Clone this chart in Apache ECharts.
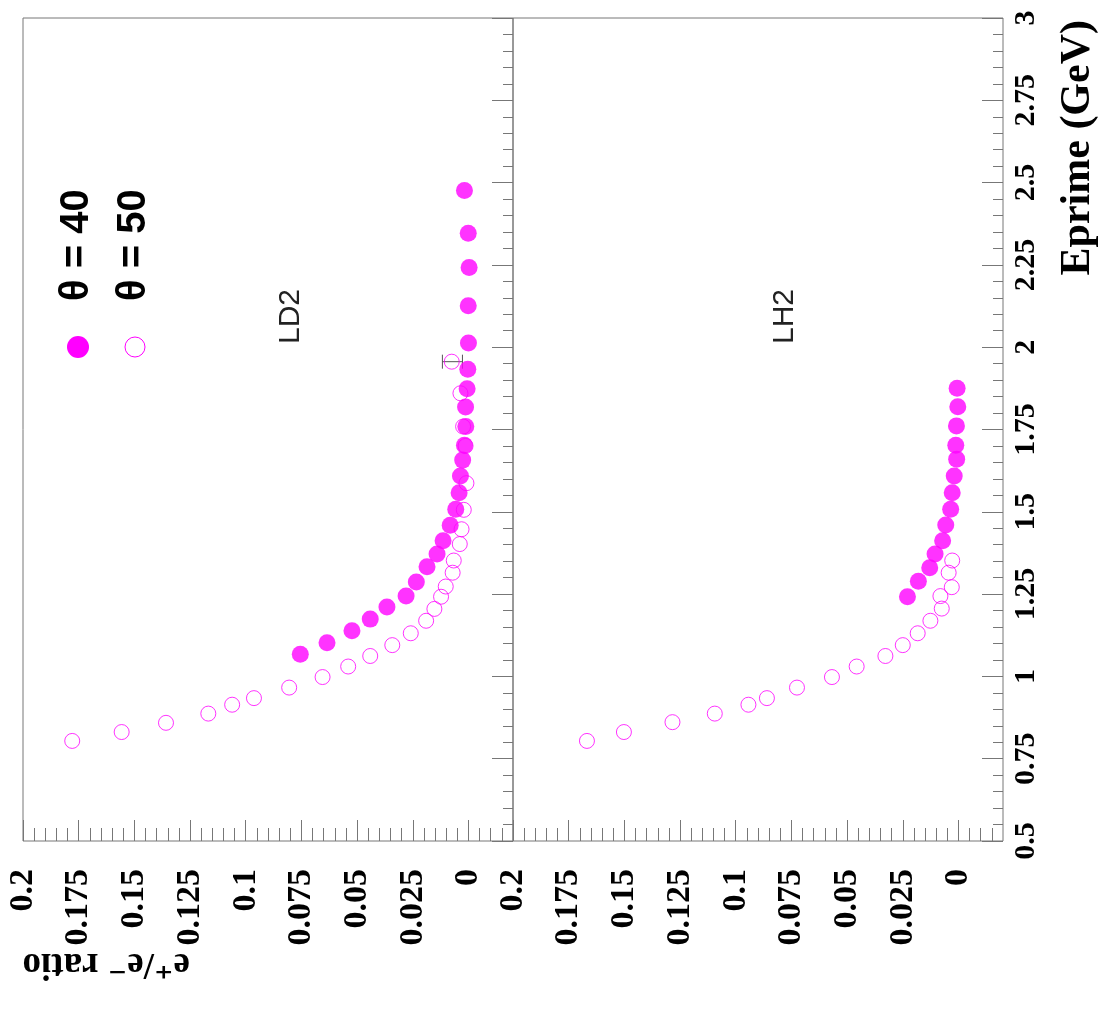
<!DOCTYPE html>
<html lang="en">
<head>
  <meta charset="UTF-8">
  <title>e+/e- ratio vs Eprime</title>
  <script src="https://cdn.jsdelivr.net/npm/echarts@6/dist/echarts.min.js"></script>
  <style>
    html, body { margin: 0; padding: 0; background: #fff; }
  </style>
</head>
<body>
<div id="main" style="width: 1098px;height: 1009px;"></div>
<script>
  // LD2, theta = 40 (filled)
  var ld2E40 = [1.067, 1.102, 1.139, 1.174, 1.211, 1.244, 1.287, 1.333, 1.372, 1.412, 1.459, 1.508, 1.558,
    1.609, 1.657, 1.702, 1.759, 1.818, 1.874, 1.933, 2.013, 2.126, 2.242, 2.346, 2.476];
  var ld2R40 = [0.0755, 0.0635, 0.0523, 0.0441, 0.0366, 0.0280, 0.0234, 0.0186, 0.0141, 0.0114, 0.0082, 0.0057, 0.0042,
    0.0036, 0.0026, 0.0018, 0.0012, 0.0013, 0.0006, 0.0003, 0.0000, 0.0001, -0.0003, 0.0001, 0.0018];
  // LD2, theta = 50 (open)
  var ld2E50 = [0.804, 0.831, 0.859, 0.887, 0.914, 0.934, 0.966, 0.998, 1.030, 1.062, 1.095, 1.131, 1.169,
    1.205, 1.242, 1.273, 1.315, 1.352, 1.402, 1.447, 1.506, 1.587, 1.700, 1.759, 1.860, 1.956];
  var ld2R50 = [0.1779, 0.1557, 0.1358, 0.1168, 0.1061, 0.0963, 0.0805, 0.0655, 0.0540, 0.0441, 0.0342, 0.0259, 0.0190,
    0.0153, 0.0123, 0.0102, 0.0071, 0.0066, 0.0039, 0.0031, 0.0021, 0.0009, 0.0013, 0.0024, 0.0036, 0.0075];
  // error bar on the last LD2 theta=50 point
  var ld2ErrE = [1.956];
  var ld2ErrLo = [0.0027];
  var ld2ErrHi = [0.0117];
  // LH2, theta = 40 (filled)
  var lh2E40 = [1.242, 1.289, 1.330, 1.372, 1.412, 1.460, 1.508, 1.558, 1.609, 1.660, 1.702, 1.761, 1.819, 1.875];
  var lh2R40 = [0.0229, 0.0180, 0.0129, 0.0105, 0.0071, 0.0057, 0.0035, 0.0028, 0.0019, 0.0008, 0.0012, 0.0009, 0.0003, 0.0006];
  // LH2, theta = 50 (open)
  var lh2E50 = [0.804, 0.831, 0.861, 0.887, 0.914, 0.934, 0.966, 0.998, 1.030, 1.062, 1.095, 1.131, 1.169,
    1.206, 1.244, 1.271, 1.315, 1.352];
  var lh2R50 = [0.1668, 0.1502, 0.1284, 0.1094, 0.0943, 0.0860, 0.0725, 0.0568, 0.0457, 0.0328, 0.0250, 0.0183, 0.0126,
    0.0075, 0.0081, 0.0030, 0.0044, 0.0028];

  var ratioTicks = [0, 0.025, 0.05, 0.075, 0.1, 0.125, 0.15, 0.175, 0.2];
</script>
<script>
  var myChart = echarts.init(document.getElementById('main'));
  var MAGENTA = '#ff00ff';
  var AXIS_GREY = '#777';

  // minor ticks every 0.005 on the ratio axis
  var ratioMinor = [];
  for (var k = -3; k < 40; k++) {
    if (k % 5 !== 0) ratioMinor.push(Math.round(k * 5) / 1000);
  }

  function pairs(xs, ys) {
    return xs.map(function (e, i) { return [ys[i], e]; });
  }

  function ratioAxis(gi, minor) {
    return {
      type: 'value', gridIndex: gi, min: -0.02, max: 0.2, inverse: true, position: 'bottom',
      axisLine: { show: false, onZero: false },
      splitLine: { show: false },
      axisTick: {
        show: true, inside: true, length: minor ? 13 : 21,
        customValues: minor ? ratioMinor : ratioTicks,
        lineStyle: { color: AXIS_GREY }
      },
      axisLabel: minor ? { show: false } : {
        show: true, customValues: ratioTicks, rotate: 90, margin: 28,
        fontFamily: 'Liberation Serif', fontWeight: 'bold', fontSize: 34, color: '#000',
        formatter: function (v) { return String(v); }
      }
    };
  }

  function eAxis(gi, labels) {
    return {
      type: 'value', gridIndex: gi, min: 0.5, max: 3, interval: 0.25, position: 'right',
      axisLine: { show: false, onZero: false },
      splitLine: { show: false },
      axisTick: { show: true, inside: true, length: 21, lineStyle: { color: AXIS_GREY } },
      minorTick: { show: true, splitNumber: 5, length: 10, lineStyle: { color: AXIS_GREY } },
      axisLabel: labels ? {
        show: true, rotate: 90, margin: 8, showMinLabel: true, showMaxLabel: true,
        fontFamily: 'Liberation Serif', fontWeight: 'bold', fontSize: 30, color: '#000'
      } : { show: false }
    };
  }

  function openSeries(xi, yi, data) {
    return {
      type: 'scatter', xAxisIndex: xi, yAxisIndex: yi, symbol: 'circle', symbolSize: 15,
      itemStyle: { color: 'rgba(0,0,0,0)', borderColor: MAGENTA, borderWidth: 1 },
      silent: true, animation: false, data: data
    };
  }

  function filledSeries(xi, yi, data) {
    return {
      type: 'scatter', xAxisIndex: xi, yAxisIndex: yi, symbol: 'circle', symbolSize: 17,
      itemStyle: { color: MAGENTA },
      silent: true, animation: false, data: data
    };
  }

  function rotText(x, y, rot, text, font, align, fill) {
    return {
      type: 'text', x: x, y: y, rotation: rot, silent: true,
      style: {
        text: text, font: font, fill: fill || '#000',
        align: align, verticalAlign: 'middle',
        textAlign: align, textVerticalAlign: 'middle'
      }
    };
  }

  myChart.setOption({
    animation: false,
    backgroundColor: '#fff',
    grid: [
      { left: 23, top: 18, width: 490, height: 823, show: true, borderColor: AXIS_GREY, borderWidth: 1 },
      { left: 513, top: 18, width: 490, height: 823, show: true, borderColor: AXIS_GREY, borderWidth: 1 }
    ],
    xAxis: [ratioAxis(0, false), ratioAxis(0, true), ratioAxis(1, false), ratioAxis(1, true)],
    yAxis: [eAxis(0, false), eAxis(1, true)],
    series: [
      openSeries(0, 0, pairs(ld2E50, ld2R50)),
      {
        type: 'custom', xAxisIndex: 0, yAxisIndex: 0, silent: true, animation: false,
        data: ld2ErrE.map(function (e, i) { return [ld2ErrLo[i], ld2ErrHi[i], e]; }),
        renderItem: function (params, api) {
          var a = api.coord([api.value(0), api.value(2)]);
          var b = api.coord([api.value(1), api.value(2)]);
          var st = { stroke: '#555', lineWidth: 1 };
          return {
            type: 'group', children: [
              { type: 'line', shape: { x1: a[0], y1: a[1], x2: b[0], y2: b[1] }, style: st },
              { type: 'line', shape: { x1: a[0], y1: a[1] - 7, x2: a[0], y2: a[1] + 7 }, style: st },
              { type: 'line', shape: { x1: b[0], y1: b[1] - 7, x2: b[0], y2: b[1] + 7 }, style: st }
            ]
          };
        }
      },
      filledSeries(0, 0, pairs(ld2E40, ld2R40)),
      openSeries(2, 1, pairs(lh2E50, lh2R50)),
      filledSeries(2, 1, pairs(lh2E40, lh2R40))
    ],
    graphic: [
      // legend
      { type: 'circle', silent: true, shape: { cx: 78, cy: 347, r: 11 }, style: { fill: MAGENTA } },
      { type: 'circle', silent: true, shape: { cx: 135, cy: 347, r: 10 }, style: { fill: 'none', stroke: MAGENTA, lineWidth: 1 } },
      rotText(77, 301, Math.PI / 2, '\u03b8 = 40', 'bold 40px "Liberation Sans"', 'left'),
      rotText(134, 301, Math.PI / 2, '\u03b8 = 50', 'bold 40px "Liberation Sans"', 'left'),
      // panel names
      rotText(291, 344, Math.PI / 2, 'LD2', '30px "Liberation Sans"', 'left', '#222'),
      rotText(785, 344, Math.PI / 2, 'LH2', '30px "Liberation Sans"', 'left', '#222'),
      // axis titles
      rotText(1078, 20, Math.PI / 2, 'Eprime (GeV)', 'bold 42px "Liberation Serif"', 'right'),
      rotText(190, 964, Math.PI, 'e\u207a/e\u207b ratio', 'bold 37px "Liberation Serif", "DejaVu Serif"', 'left')
    ]
  });
</script>
</body>
</html>
